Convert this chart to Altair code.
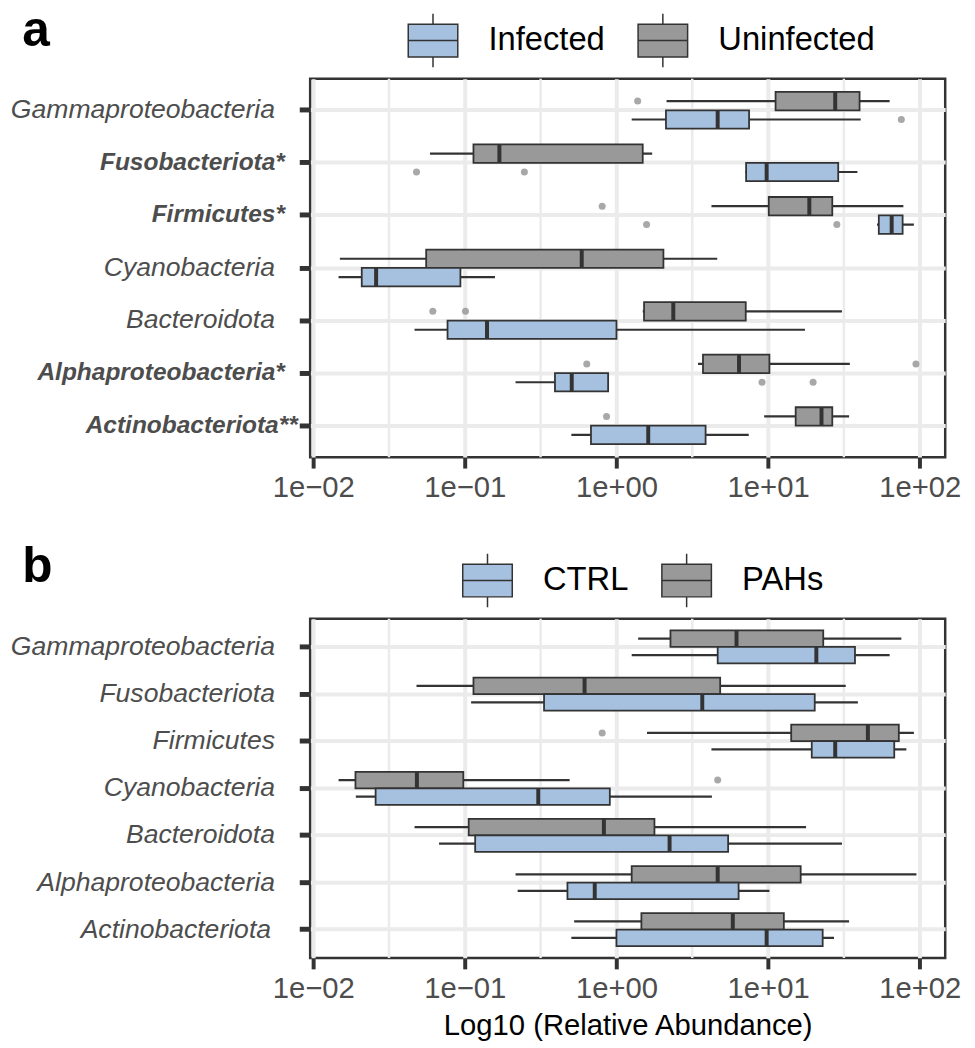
import altair as alt
import pandas as pd

FONT = "Liberation Sans"

taxa = ["Gammaproteobacteria", "Fusobacteriota", "Firmicutes", "Cyanobacteria",
        "Bacteroidota", "Alphaproteobacteria", "Actinobacteriota"]
labels_a = ["Gammaproteobacteria", "Fusobacteriota*", "Firmicutes*", "Cyanobacteria",
            "Bacteroidota", "Alphaproteobacteria*", "Actinobacteriota**"]
labels_b = list(taxa)

groups_a = ["Infected", "Uninfected"]
groups_b = ["CTRL", "PAHs"]

# [lower whisker, Q1, median, Q3, upper whisker], taxa top to bottom
a_uninfected = [
    [2.14, 11.2, 27.7, 40.1, 63.3],
    [0.0589, 0.114, 0.169, 1.49, 1.72],
    [4.23, 10.1, 18.7, 26.5, 78.0],
    [0.0150, 0.0556, 0.590, 2.04, 4.62],
    [1.49, 1.52, 2.37, 7.12, 30.7],
    [3.45, 3.72, 6.43, 10.2, 34.6],
    [9.42, 15.2, 22.5, 26.5, 34.2],
]
a_infected = [
    [1.26, 2.12, 4.65, 7.49, 40.8],
    [7.08, 7.16, 9.78, 29.0, 38.8],
    [52.3, 53.7, 65.3, 77.1, 91.5],
    [0.0147, 0.0209, 0.0260, 0.0935, 0.158],
    [0.0466, 0.0769, 0.140, 1.00, 17.5],
    [0.216, 0.393, 0.507, 0.881, 0.89],
    [0.504, 0.679, 1.62, 3.87, 7.45],
]
b_pahs = [
    [1.39, 2.27, 6.19, 23.1, 75.6],
    [0.048, 0.114, 0.616, 4.83, 32.5],
    [1.59, 14.2, 45.5, 72.8, 91.5],
    [0.0147, 0.0190, 0.0483, 0.0977, 0.491],
    [0.0466, 0.106, 0.826, 1.78, 17.8],
    [0.216, 1.26, 4.65, 16.4, 95.1],
    [0.526, 1.46, 5.85, 12.7, 34.2],
]
b_ctrl = [
    [1.26, 4.65, 20.8, 37.4, 63.3],
    [0.110, 0.333, 3.68, 20.3, 39.1],
    [4.23, 19.4, 27.7, 67.9, 81.6],
    [0.0191, 0.0258, 0.305, 0.904, 4.26],
    [0.0676, 0.117, 2.24, 5.45, 30.7],
    [0.223, 0.475, 0.719, 6.39, 10.2],
    [0.504, 1.00, 9.78, 22.9, 27.2],
]

# outliers: taxon index, group, value
a_out_taxon = [0, 2, 4, 4, 5, 5, 6, 0, 1, 1, 2, 2, 5, 5]
a_out_group = ["Uninfected"] * 7 + ["Infected"] * 7
a_out_value = [1.38, 0.805, 0.0615, 0.101, 0.637, 94.4, 0.86,
               75.6, 0.048, 0.247, 1.58, 28.4, 9.12, 19.8]
b_out_taxon = [2, 3]
b_out_group = ["PAHs", "PAHs"]
b_out_value = [0.805, 4.65]

x_ticks = [0.01, 0.1, 1, 10, 100]
x_tick_labels = ["1e\u221202", "1e\u221201", "1e+00", "1e+01", "1e+02"]
x_minor = [0.0316, 0.316, 3.16, 31.6]
x_domain = [0.00955, 147.2]

BLUE = "#A6C1E0"
GREY = "#999999"
DARK = "#333333"
BOX_PATH = ("M-1,-0.66L1,-0.66L1,0.66L-1,0.66Z M-1,0L1,0 "
            "M0,-0.66L0,-1.08 M0,0.66L0,1.08")

STAR = "indexof(datum.value, '*') >= 0"
pad_a = {"condition": [{"test": "indexof(datum.value, '**') >= 0", "value": 2},
                       {"test": STAR, "value": 15}], "value": 25}
pad_b = {"condition": {"test": "indexof(datum.value, 'Actino') >= 0", "value": 29},
         "value": 25}


def stats_frame(labels, group, rows):
    return pd.DataFrame({
        "label": labels, "group": group,
        "lo": [r[0] for r in rows], "q1": [r[1] for r in rows],
        "med": [r[2] for r in rows], "q3": [r[3] for r in rows],
        "hi": [r[4] for r in rows],
    })


def panel(stats, outs, labels, groups, title_text, legend_x, box_h, height, xtitle, pad,
          title_dy):
    label_expr = "[" + ",".join("'%s'" % s for s in x_tick_labels) + "][round(log(datum.value)/LN10)+2]"
    xaxis = alt.Axis(values=x_ticks, labelExpr=label_expr, tickSize=11, tickWidth=4,
                     tickColor=DARK, labelFontSize=29.5, labelColor="#4D4D4D",
                     labelFont=FONT, labelPadding=6, domain=False, grid=True,
                     gridColor="#EBEBEB", gridWidth=4, labelFlush=False,
                     title=xtitle if xtitle else None, titleFont=FONT,
                     titleFontSize=29.5, titleFontWeight="normal", titleColor="black",
                     titlePadding=9)
    xscale = alt.Scale(type="log", domain=x_domain, nice=False)
    yaxis = alt.Axis(title=None, labelFont=FONT,
                     labelFontSize={"condition": {"test": STAR, "value": 24.7}, "value": 26.8},
                     labelFontStyle="italic",
                     labelFontWeight={"condition": {"test": STAR, "value": "bold"},
                                      "value": "normal"},
                     labelColor="#4D4D4D", labelPadding=pad, labelLimit=0,
                     tickSize=11, tickWidth=5, tickColor=DARK, domain=False,
                     grid=True, gridColor="#EBEBEB", gridWidth=4, bandPosition=0.5)
    y = alt.Y("label:N", sort=labels, scale=alt.Scale(paddingInner=0, paddingOuter=0.1), axis=yaxis)
    yoff = alt.YOffset("group:N", sort=[groups[1], groups[0]],
                       scale=alt.Scale(paddingInner=0, paddingOuter=0.4286))

    grid = alt.Chart(pd.DataFrame({"v": x_minor})).mark_rule(
        color="#EBEBEB", strokeWidth=2.5).encode(
        x=alt.X("v:Q", scale=xscale, axis=xaxis))
    base = alt.Chart(stats)
    whisk = base.mark_rule(color=DARK, strokeWidth=2.2).encode(
        x=alt.X("lo:Q", scale=xscale, axis=xaxis), x2="hi:Q", y=y, yOffset=yoff)
    box = base.mark_bar(stroke=DARK, strokeWidth=1.8, opacity=1).encode(
        x=alt.X("q1:Q", scale=xscale, axis=xaxis), x2="q3:Q", y=y, yOffset=yoff,
        color=alt.Color("group:N", scale=alt.Scale(domain=groups, range=[BLUE, GREY]),
                        legend=alt.Legend(orient="none", legendX=legend_x, legendY=-64.5,
                                          direction="horizontal", title=None,
                                          symbolType=BOX_PATH, symbolSize=2500,
                                          symbolStrokeColor=DARK, symbolStrokeWidth=1.5,
                                          symbolOpacity=1,
                                          labelFontSize=33, labelColor="black",
                                          labelFont=FONT, labelOffset=30,
                                          columnPadding=30, padding=0)))
    med = base.mark_tick(orient="vertical", color=DARK, thickness=4, size=box_h,
                         opacity=1).encode(
        x=alt.X("med:Q", scale=xscale, axis=xaxis), y=y, yOffset=yoff)
    pts = alt.Chart(outs).mark_circle(size=50, color="#999999", opacity=0.85).encode(
        x=alt.X("v:Q", scale=xscale, axis=xaxis), y=y, yOffset=yoff)
    return alt.layer(grid, whisk, box, med, pts).properties(
        width=641, height=height,
        title=alt.TitleParams(title_text, anchor="start", frame="bounds", fontSize=50,
                              fontWeight="bold", color="black", font=FONT,
                              baseline="alphabetic", offset=0, dx=12, dy=title_dy))


stats_a = pd.concat([stats_frame(labels_a, "Uninfected", a_uninfected),
                     stats_frame(labels_a, "Infected", a_infected)])
stats_b = pd.concat([stats_frame(labels_b, "PAHs", b_pahs),
                     stats_frame(labels_b, "CTRL", b_ctrl)])
outs_a = pd.DataFrame({"label": [labels_a[i] for i in a_out_taxon],
                       "group": a_out_group, "v": a_out_value})
outs_b = pd.DataFrame({"label": [labels_b[i] for i in b_out_taxon],
                       "group": b_out_group, "v": b_out_value})

pa = panel(stats_a, outs_a, labels_a, groups_a, "a", 98, 18.5, 382, None, pad_a, 81.5)
pb = panel(stats_b, outs_b, labels_b, groups_b, "b", 153, 16.7, 342.5,
           "Log10 (Relative Abundance)", pad_b, 77)

chart = alt.vconcat(pa, pb, spacing=37).resolve_scale(
    color="independent", y="independent", x="independent", yOffset="independent"
).resolve_legend(color="independent").properties(
    padding={"top": -8.5, "left": 1, "right": 5, "bottom": 5}
).configure_view(stroke=DARK, strokeWidth=2.5)

chart.save("out.html", embed_options={"renderer": "svg", "actions": False})
